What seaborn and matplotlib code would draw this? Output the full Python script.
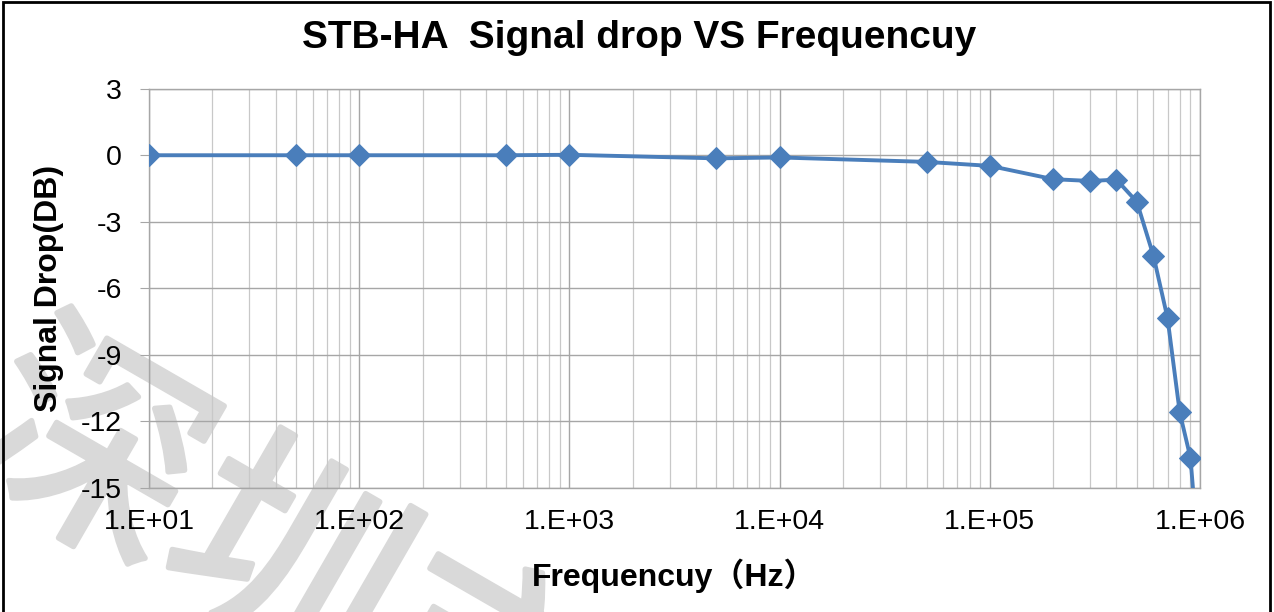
import numpy as np
import pandas as pd
import matplotlib
matplotlib.use("Agg")
import matplotlib.pyplot as plt
import matplotlib.patheffects as pe
from matplotlib.ticker import LogLocator, FixedLocator, FuncFormatter
from matplotlib.patches import Rectangle
import seaborn as sns

# data
freq_hz = [10, 50, 100, 500, 1000, 5000, 10000, 50000, 100000,
           200000, 300000, 400000, 500000, 600000, 700000, 800000, 900000, 1000000]
drop_db = [0.0, 0.0, 0.0, 0.0, 0.02, -0.14, -0.1, -0.3, -0.48,
           -1.08, -1.16, -1.1, -2.1, -4.54, -7.35, -11.6, -13.66, -19.0]
y_ticks = [3, 0, -3, -6, -9, -12, -15]
x_major = [1e1, 1e2, 1e3, 1e4, 1e5, 1e6]

df = pd.DataFrame({"freq": freq_hz, "drop": drop_db})

sns.set_style("white")
plt.rcParams["font.family"] = ["Liberation Sans", "Noto Sans CJK SC", "DejaVu Sans"]
plt.rcParams["axes.unicode_minus"] = False
for key in ["text.color", "axes.labelcolor", "xtick.labelcolor", "ytick.labelcolor"]:
    plt.rcParams[key] = "black"

fig = plt.figure(figsize=(12.74, 6.12), dpi=100)
ax = fig.add_axes([0.117, 0.203, 0.825, 0.652])
ax.set_facecolor("none")

line_col = "#4a7ebb"
sns.lineplot(data=df, x="freq", y="drop", ax=ax, color=line_col, linewidth=2.8,
             marker="D", markersize=11, markeredgecolor=line_col, zorder=3)

ax.set_xscale("log")
ax.set_xlim(1e1, 1e6)
ax.set_ylim(-15, 3)

ax.xaxis.set_major_locator(FixedLocator(x_major))
ax.xaxis.set_minor_locator(LogLocator(base=10, subs=np.arange(2, 10)))
ax.xaxis.set_major_formatter(FuncFormatter(lambda v, p: "1.E+%02d" % int(round(np.log10(v)))))
ax.xaxis.set_minor_formatter(FuncFormatter(lambda v, p: ""))
ax.yaxis.set_major_locator(FixedLocator(y_ticks))

ax.grid(which="major", axis="both", color="#a6a6a6", linewidth=1.0)
ax.grid(which="minor", axis="x", color="#c8c8c8", linewidth=0.9)
for s in ax.spines.values():
    s.set_color("#a6a6a6")
    s.set_linewidth(1.0)

ax.tick_params(axis="y", which="major", length=6.5, color="#a6a6a6", labelsize=20.5,
               pad=13, direction="out", left=True)
ax.tick_params(axis="x", which="both", length=0, labelsize=20.5, pad=15)

fig.suptitle("STB-HA  Signal drop VS Frequencuy", x=0.502, y=1 - 38 / 612, va="center",
             fontsize=28, fontweight="bold")
ax.set_xlabel("Frequencuy（Hz）", fontsize=23, fontweight="bold", labelpad=17)
ax.set_ylabel("Signal Drop(DB)", fontsize=23, fontweight="bold", labelpad=12)

# watermark, behind the plot
fig.text(282 / 1274, 1 - 572 / 612, "深圳市", fontsize=165, color="#d9d9d9",
         family=["Noto Sans CJK SC"], rotation=-30,
         ha="center", va="center", rotation_mode="anchor", zorder=-1,
         path_effects=[pe.withStroke(linewidth=4, foreground="#d9d9d9")])

# chart border
fig.patches.append(Rectangle((3 / 1274, -0.1), 1267 / 1274, 1.1 - 2 / 612,
                             transform=fig.transFigure, fill=False,
                             edgecolor="black", linewidth=2, zorder=20))

fig.savefig("out.png", dpi=100)
